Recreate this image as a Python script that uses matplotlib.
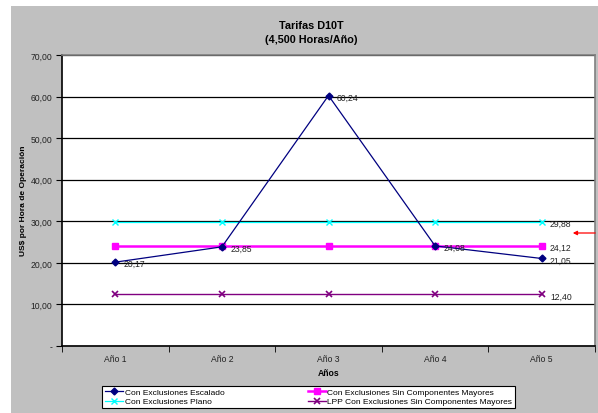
import matplotlib
matplotlib.use("Agg")
import matplotlib.pyplot as plt
from matplotlib.ticker import FixedLocator, FuncFormatter

plt.rcParams['font.family'] = ['Liberation Sans', 'DejaVu Sans']

# datos
anios = ["Año 1", "Año 2", "Año 3", "Año 4", "Año 5"]
escalado = [20.17, 23.85, 60.24, 24.08, 21.05]
plano = [29.88, 29.88, 29.88, 29.88, 29.88]
sin_comp = [24.12, 24.12, 24.12, 24.12, 24.12]
lpp = [12.40, 12.40, 12.40, 12.40, 12.40]
y_ticks = [0, 10, 20, 30, 40, 50, 60, 70]

W, H = 598, 414
fig = plt.figure(figsize=(W / 100, H / 100), dpi=100)
fig.patch.set_facecolor("white")

# fondo gris del area del grafico
bg = fig.add_axes([11 / W, 0, 1 - 11 / W, 1 - 7 / H])
bg.set_facecolor("#C0C0C0")
bg.set_xticks([])
bg.set_yticks([])
for s in bg.spines.values():
    s.set_visible(False)

ax = fig.add_axes([62 / W, 1 - 347 / H, (595 - 62) / W, (347 - 56) / H])
ax.set_facecolor("white")
x = list(range(len(anios)))

ax.plot(x, escalado, color="#000080", lw=0.9, marker="D", ms=3.5, zorder=5,
        label="Con Exclusiones Escalado")
ax.plot(x, plano, color="#00FFFF", lw=0.9, marker="x", ms=5, mew=1.0, zorder=3,
        label="Con Exclusiones Plano")
ax.plot(x, sin_comp, color="#FF00FF", lw=1.8, marker="s", ms=5, zorder=4,
        label="Con Exclusiones Sin Componentes Mayores")
ax.plot(x, lpp, color="#800080", lw=1.0, marker="x", ms=4.5, mew=1.2, zorder=3,
        label="LPP Con Exclusiones Sin Componentes Mayores")

fmt = lambda v: f"{v:.2f}".replace(".", ",")
lab_kw = dict(textcoords="offset points", xytext=(6, -1), va="center", ha="left",
              fontsize=6.2, color="#222222", zorder=6)
for i, v in enumerate(escalado):
    ax.annotate(fmt(v), (i, v), **lab_kw)
for serie in (plano, sin_comp, lpp):
    ax.annotate(fmt(serie[-1]), (len(anios) - 1, serie[-1]), **lab_kw)

ax.set_xlim(-0.5, len(anios) - 0.5)
ax.set_ylim(0, 70)
ax.yaxis.set_major_locator(FixedLocator(y_ticks))
ax.yaxis.set_major_formatter(FuncFormatter(lambda v, p: "-" if v == 0 else fmt(v)))
ax.set_xticks(x)
ax.set_xticklabels(anios)
ax.set_xticks([i + 0.5 for i in range(-1, len(anios))], minor=True)
ax.tick_params(axis="x", which="major", length=0, pad=6, labelsize=6.2, colors="#222222")
ax.tick_params(axis="x", which="minor", length=4, direction="out", color="black")
ax.tick_params(axis="y", length=4, direction="out", labelsize=6.2, colors="#222222", pad=3)
ax.tick_params(axis="y", color="black")
ax.grid(axis="y", color="black", lw=0.9)
ax.set_axisbelow(True)

ax.spines["left"].set_color("black")
ax.spines["bottom"].set_color("black")
ax.spines["left"].set_linewidth(1.2)
ax.spines["bottom"].set_linewidth(1.2)
ax.spines["top"].set_color("#808080")
ax.spines["right"].set_color("#808080")
ax.spines["top"].set_linewidth(1.2)
ax.spines["right"].set_linewidth(1.2)

fig.text(329 / W, 1 - 374 / H, "Años", ha="center", va="center",
         fontsize=6.2, fontweight="bold")
fig.text(24 / W, 1 - 201 / H, "US$ por Hora de Operación", ha="center", va="center",
         rotation=90, fontsize=6.0, fontweight="bold")

fig.text(311 / W, 1 - 26 / H, "Tarifas D10T", ha="center", va="center",
         fontsize=7.8, fontweight="bold")
fig.text(311 / W, 1 - 40 / H, "(4,500 Horas/Año)", ha="center", va="center",
         fontsize=7.8, fontweight="bold")

leg = fig.legend(loc="center", bbox_to_anchor=(308.5 / W, 1 - 398 / H), ncol=2,
                 fontsize=6.0, frameon=True, fancybox=False, borderpad=0.3,
                 handlelength=2.2, handletextpad=0.15, columnspacing=10.0,
                 labelspacing=0.15, borderaxespad=0, framealpha=1)
leg.get_frame().set_facecolor("white")
leg.get_frame().set_edgecolor("black")
leg.get_frame().set_linewidth(0.8)

# flecha roja a la derecha
fig.add_artist(matplotlib.patches.FancyArrowPatch(
    (598 / W, 1 - 234 / H), (570 / W, 1 - 234 / H), transform=fig.transFigure,
    arrowstyle="-|>", mutation_scale=6, color="red", lw=0.9))

fig.savefig("out.png", dpi=100)
